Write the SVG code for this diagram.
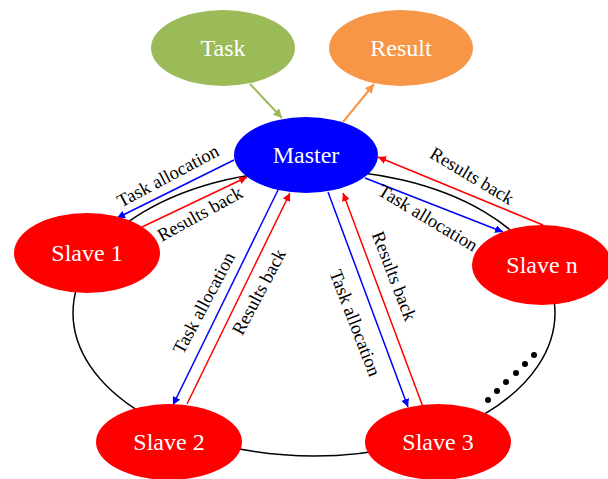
<svg xmlns="http://www.w3.org/2000/svg" width="608" height="479" viewBox="0 0 608 479">
<style>
.nt{font-family:"Liberation Serif","Times New Roman",serif;font-size:24px;fill:#fff;text-anchor:middle;dominant-baseline:central}
.lb{font-family:"Liberation Serif","Times New Roman",serif;font-size:18.5px;fill:#000;text-anchor:middle;dominant-baseline:central}
.b{stroke:#0000ff;stroke-width:1.5;fill:none;marker-end:url(#ab)}
.r{stroke:#ff0000;stroke-width:1.5;fill:none;marker-end:url(#ar)}
</style>
<defs>
<marker id="ab" viewBox="0 0 10 10" refX="10" refY="5" markerWidth="8" markerHeight="8" orient="auto" markerUnits="userSpaceOnUse"><path d="M0,0L10,5L0,10z" fill="#0000ff"/></marker>
<marker id="ar" viewBox="0 0 10 10" refX="10" refY="5" markerWidth="8" markerHeight="8" orient="auto" markerUnits="userSpaceOnUse"><path d="M0,0L10,5L0,10z" fill="#ff0000"/></marker>
<marker id="ag" viewBox="0 0 10 10" refX="10" refY="5" markerWidth="9" markerHeight="9" orient="auto" markerUnits="userSpaceOnUse"><path d="M0,0L10,5L0,10z" fill="#9bbb59"/></marker>
<marker id="ao" viewBox="0 0 10 10" refX="10" refY="5" markerWidth="9" markerHeight="9" orient="auto" markerUnits="userSpaceOnUse"><path d="M0,0L10,5L0,10z" fill="#f79646"/></marker>
</defs>
<ellipse cx="314" cy="313" rx="241" ry="143" fill="none" stroke="#000" stroke-width="1.5"/>
<g id="dots" fill="#000">
<circle cx="488" cy="400" r="3"/><circle cx="497" cy="391" r="3"/><circle cx="506" cy="382" r="3"/>
<circle cx="516" cy="373" r="3"/><circle cx="525" cy="364" r="3"/><circle cx="534" cy="355" r="3"/>
</g>
<g id="connectors">
<line x1="250" y1="84" x2="282" y2="118" stroke="#9bbb59" stroke-width="2" marker-end="url(#ag)"/>
<line x1="343" y1="122" x2="374" y2="84" stroke="#f79646" stroke-width="2" marker-end="url(#ao)"/>
<line class="b" x1="234" y1="160" x2="117" y2="218"/>
<line class="r" x1="142" y1="227" x2="247" y2="177"/>
<line class="b" x1="365" y1="178" x2="503" y2="232"/>
<line class="r" x1="543" y1="225" x2="378" y2="157"/>
<line class="b" x1="278" y1="190" x2="173" y2="405"/>
<line class="r" x1="187" y1="404" x2="290" y2="193"/>
<line class="b" x1="328" y1="192" x2="408" y2="407"/>
<line class="r" x1="423" y1="407" x2="343" y2="193"/>
<text class="lb" transform="translate(168,176) rotate(-28)">Task allocation</text>
<text class="lb" transform="translate(200,214) rotate(-29)">Results back</text>
<text class="lb" transform="translate(204,303) rotate(-62)">Task allocation</text>
<text class="lb" transform="translate(259,292) rotate(-62)">Results back</text>
<text class="lb" transform="translate(355,323) rotate(69)">Task allocation</text>
<text class="lb" transform="translate(394,276) rotate(69)">Results back</text>
<text class="lb" transform="translate(472,176) rotate(31)">Results back</text>
<text class="lb" transform="translate(428,218) rotate(31)">Task allocation</text>
</g>
<g id="task"><ellipse cx="223" cy="48" rx="72" ry="38" fill="#9bbb59"/><text class="nt" x="223" y="48">Task</text></g>
<g id="result"><ellipse cx="401" cy="48" rx="72" ry="38" fill="#f79646"/><text class="nt" x="401" y="48">Result</text></g>
<g id="master"><ellipse cx="306" cy="155" rx="72" ry="38" fill="#0000ff"/><text class="nt" x="306" y="155">Master</text></g>
<g id="slave1"><ellipse cx="87" cy="253" rx="73" ry="40" fill="#ff0000"/><text class="nt" x="87" y="253">Slave 1</text></g>
<g id="slaven"><ellipse cx="542" cy="265" rx="70" ry="40" fill="#ff0000"/><text class="nt" x="542" y="265">Slave n</text></g>
<g id="slave2"><ellipse cx="169" cy="442" rx="73" ry="38" fill="#ff0000"/><text class="nt" x="169" y="442">Slave 2</text></g>
<g id="slave3"><ellipse cx="438" cy="442" rx="73" ry="38" fill="#ff0000"/><text class="nt" x="438" y="442">Slave 3</text></g>
</svg>
